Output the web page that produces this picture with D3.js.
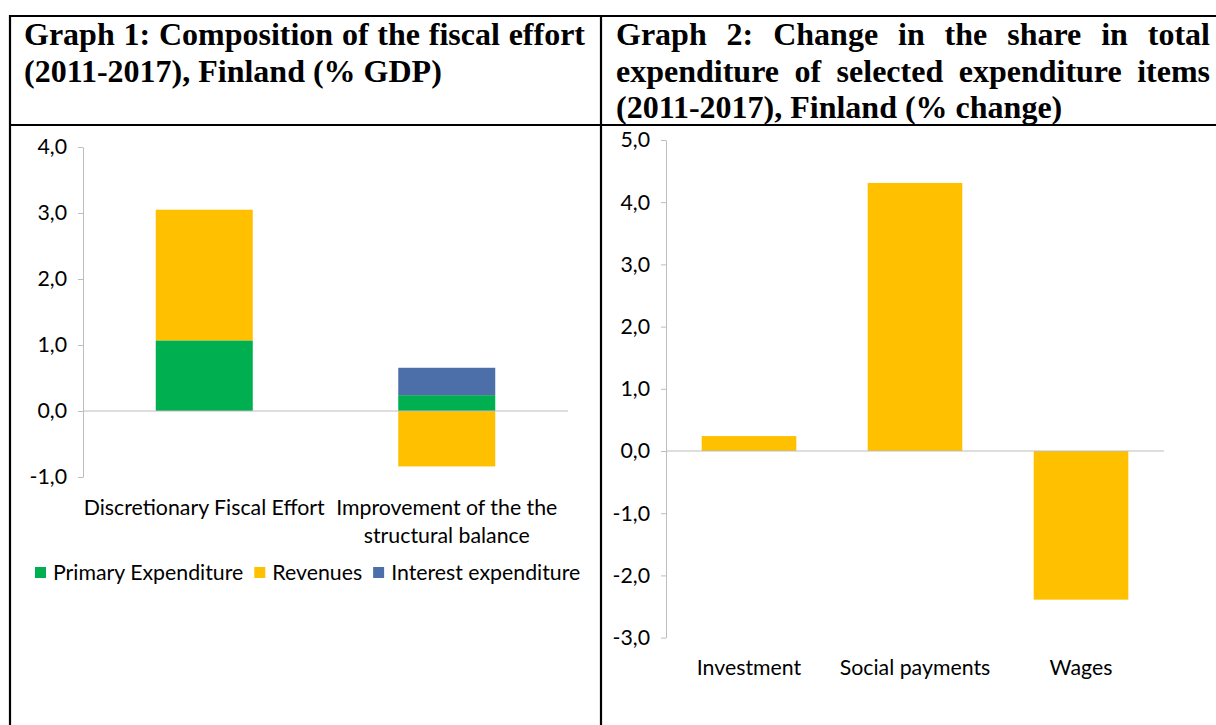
<!DOCTYPE html>
<html><head><meta charset="utf-8">
<script src="https://cdn.jsdelivr.net/npm/d3@7"></script>
<style>
body{margin:0;background:#fff;}
svg{display:block;}
</style></head>
<body>
<script>
// ---------- DATA ----------
const title1Lines = ["Graph 1: Composition of the fiscal effort", "(2011-2017), Finland (% GDP)"];
const title2Lines = ["Graph 2: Change in the share in total", "expenditure of selected expenditure items", "(2011-2017), Finland (% change)"];

const g1Categories = ["Discretionary Fiscal Effort", "Improvement of the the structural balance"];
const g1CategoryLines = [["Discretionary Fiscal Effort"], ["Improvement of the the", "structural balance"]];
const g1Series = ["Primary Expenditure", "Revenues", "Interest expenditure"];
const g1Primary = [1.07, 0.24];
const g1Revenues = [1.98, -0.84];
const g1Interest = [0.0, 0.415];
const g1Ticks = [-1, 0, 1, 2, 3, 4];

const g2Categories = ["Investment", "Social payments", "Wages"];
const g2Values = [0.24, 4.31, -2.39];
const g2Ticks = [-3, -2, -1, 0, 1, 2, 3, 4, 5];

// ---------- STYLE ----------
const W = 1216, H = 725;
const colors = {"Primary Expenditure":"#00B050","Revenues":"#FFC000","Interest expenditure":"#4D6FA9"};
const axisColor = "#BDBDBD";
const sansFont = "Lato, 'Open Sans', sans-serif";
const serifFont = "'Liberation Serif', 'Times New Roman', serif";
const tickFontSize = 21.3;

const svg = d3.select("body").append("svg").attr("width", W).attr("height", H);
svg.append("rect").attr("width", W).attr("height", H).attr("fill", "#fff");

const locale = d3.formatLocale({decimal: ",", thousands: ".", grouping: [3], currency: ["", "€"], minus: "-"});
const fmt = locale.format(".1f");

// ---------- TABLE BORDERS ----------
const border = svg.append("g").attr("stroke", "#000").attr("stroke-width", 2.2);
border.append("line").attr("x1", 9).attr("x2", W).attr("y1", 16).attr("y2", 16);
border.append("line").attr("x1", 9).attr("x2", W).attr("y1", 125).attr("y2", 125);
border.append("line").attr("x1", 10).attr("x2", 10).attr("y1", 15).attr("y2", H);
border.append("line").attr("x1", 601).attr("x2", 601).attr("y1", 15).attr("y2", H);

// ---------- TITLES (justified) ----------
function drawTitle(lines, x0, x1, y0, lh) {
  const g = svg.append("g").attr("font-family", serifFont).attr("font-weight", "bold")
    .attr("font-size", 32).attr("fill", "#000");
  lines.forEach((line, i) => {
    const y = y0 + i * lh;
    const words = line.split(" ");
    const last = i === lines.length - 1;
    const t = g.append("text").attr("y", y);
    const spans = words.map(w => t.append("tspan").text(w));
    const widths = spans.map(s => s.node().getComputedTextLength());
    const total = d3.sum(widths);
    const space = last ? 8 : (x1 - x0 - total) / (words.length - 1);
    let x = x0;
    spans.forEach((s, k) => { s.attr("x", x); x += widths[k] + space; });
  });
}
drawTitle(title1Lines, 24, 585, 45, 36.5);
drawTitle(title2Lines, 616, 1210, 45, 36.5);

// ---------- GRAPH 1 ----------
const y1 = d3.scaleLinear().domain([-1, 4]).range([477, 147]);
const x1 = d3.scaleBand().domain(g1Categories).range([83, 568]).paddingInner(0.6).paddingOuter(0.3);

const g1Rows = g1Categories.map((c, i) => ({
  cat: c, "Primary Expenditure": g1Primary[i], "Revenues": g1Revenues[i], "Interest expenditure": g1Interest[i]
}));
const stack = d3.stack().keys(g1Series).offset(d3.stackOffsetDiverging);
const stacked = stack(g1Rows);

const ax1 = svg.append("g").attr("transform", "translate(83,0)")
  .call(d3.axisLeft(y1).tickValues(g1Ticks).tickFormat(fmt).tickSize(5).tickSizeOuter(0).tickPadding(11));
ax1.select(".domain").attr("stroke", axisColor);
ax1.selectAll(".tick line").attr("stroke", axisColor);
ax1.selectAll(".tick text").attr("font-family", sansFont).attr("font-size", tickFontSize).attr("fill", "#000");

svg.append("g").selectAll("g").data(stacked).join("g")
  .attr("fill", d => colors[d.key])
  .selectAll("rect").data(d => d).join("rect")
  .attr("x", d => x1(d.data.cat))
  .attr("width", x1.bandwidth())
  .attr("y", d => y1(Math.max(d[0], d[1])))
  .attr("height", d => Math.abs(y1(d[0]) - y1(d[1])));

svg.append("line").attr("x1", 83).attr("x2", 568).attr("y1", y1(0)).attr("y2", y1(0))
  .attr("stroke", axisColor).attr("stroke-width", 1);

const cl1 = svg.append("g").attr("font-family", sansFont).attr("font-size", tickFontSize).attr("fill", "#000").attr("text-anchor", "middle");
g1Categories.forEach((c, i) => {
  g1CategoryLines[i].forEach((ln, k) => {
    cl1.append("text").attr("x", x1(c) + x1.bandwidth() / 2).attr("y", 515 + k * 28).text(ln);
  });
});

// legend
const leg = svg.append("g").attr("font-family", sansFont).attr("font-size", tickFontSize).attr("fill", "#000");
let lx = 35;
g1Series.forEach(s => {
  leg.append("rect").attr("x", lx).attr("y", 567).attr("width", 11).attr("height", 11).attr("fill", colors[s]);
  const t = leg.append("text").attr("x", lx + 18).attr("y", 580).text(s);
  lx += 18 + t.node().getComputedTextLength() + 11;
});

// ---------- GRAPH 2 ----------
const y2 = d3.scaleLinear().domain([-3, 5]).range([637.6, 140]);
const x2 = d3.scaleBand().domain(g2Categories).range([666, 1164]).paddingInner(0.43).paddingOuter(0.215);

const ax2 = svg.append("g").attr("transform", "translate(666,0)")
  .call(d3.axisLeft(y2).tickValues(g2Ticks).tickFormat(fmt).tickSize(5).tickSizeOuter(0).tickPadding(11));
ax2.select(".domain").attr("stroke", axisColor);
ax2.selectAll(".tick line").attr("stroke", axisColor);
ax2.selectAll(".tick text").attr("font-family", sansFont).attr("font-size", tickFontSize).attr("fill", "#000");

svg.append("g").selectAll("rect").data(g2Values).join("rect")
  .attr("fill", colors["Revenues"])
  .attr("x", (d, i) => x2(g2Categories[i]))
  .attr("width", x2.bandwidth())
  .attr("y", d => y2(Math.max(0, d)))
  .attr("height", d => Math.abs(y2(d) - y2(0)));

svg.append("line").attr("x1", 666).attr("x2", 1164).attr("y1", y2(0)).attr("y2", y2(0))
  .attr("stroke", axisColor).attr("stroke-width", 1);

svg.append("g").attr("font-family", sansFont).attr("font-size", tickFontSize).attr("fill", "#000").attr("text-anchor", "middle")
  .selectAll("text").data(g2Categories).join("text")
  .attr("x", d => x2(d) + x2.bandwidth() / 2).attr("y", 675).text(d => d);
</script>
</body></html>
